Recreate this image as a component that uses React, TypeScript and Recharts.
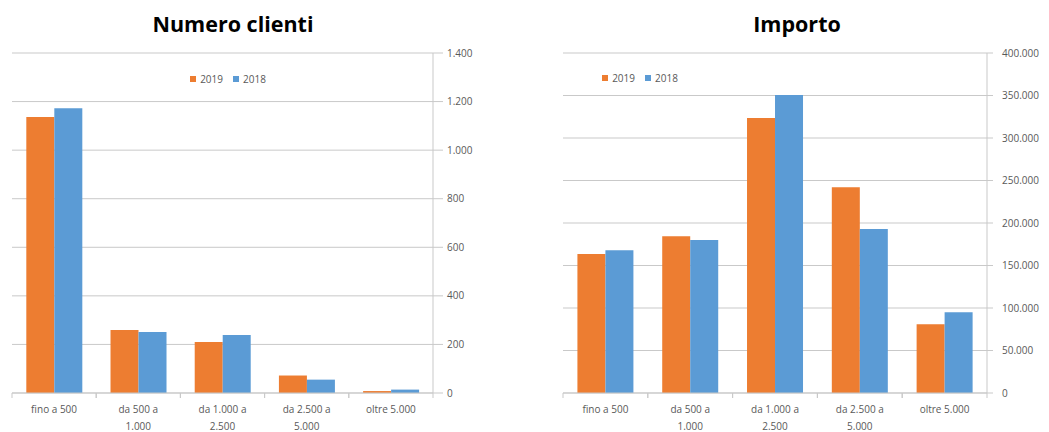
import React from "react";
import { BarChart, Bar, XAxis, YAxis, CartesianGrid, Legend } from "recharts";

// Fasce di importo
const categories = ["fino a 500", "da 500 a 1.000", "da 1.000 a 2.500", "da 2.500 a 5.000", "oltre 5.000"];

// Numero clienti per fascia
const clienti2019 = [1136, 259, 210, 72, 8];
const clienti2018 = [1173, 251, 239, 55, 14];

// Importo per fascia
const importo2019 = [163500, 184500, 323500, 242000, 81000];
const importo2018 = [168000, 180000, 350500, 193000, 95000];

const clientiTicks = [0, 200, 400, 600, 800, 1000, 1200, 1400];
const importoTicks = [0, 50000, 100000, 150000, 200000, 250000, 300000, 350000, 400000];

// keys prefixed so the legend (sorted by dataKey) lists 2019 before 2018
const clientiData = categories.map((c, i) => ({ name: c, a2019: clienti2019[i], b2018: clienti2018[i] }));
const importoData = categories.map((c, i) => ({ name: c, a2019: importo2019[i], b2018: importo2018[i] }));

const ORANGE = "#ED7D31";
const BLUE = "#5B9BD5";
const GRID = "#c9c9c9";
const TEXT = "#595959";
const FONT = "'Open Sans', 'DejaVu Sans', sans-serif";

const fmt = (v: number) => String(v).replace(/\B(?=(\d{3})+(?!\d))/g, ".");

const wrapLabel = (s: string): string[] => {
  if (s.startsWith("da ")) {
    const k = s.lastIndexOf(" ");
    return [s.slice(0, k), s.slice(k + 1)];
  }
  return [s];
};

const CategoryTick = (props: any) => {
  const { x, y, payload } = props;
  const half = payload && payload.offset ? payload.offset : 42;
  const lines = wrapLabel(payload.value);
  return (
    <g>
      <line x1={x - half} x2={x - half} y1={y - 8} y2={y - 3} stroke={GRID} />
      <line x1={x + half} x2={x + half} y1={y - 8} y2={y - 3} stroke={GRID} />
      {lines.map((l, i) => (
        <text
          key={i}
          x={x}
          y={y + 12 + i * 17}
          textAnchor="middle"
          fontSize={10}
          fontFamily={FONT}
          fill={TEXT}
        >
          {l}
        </text>
      ))}
    </g>
  );
};

const legendFormatter = (value: string) => (
  <span style={{ color: TEXT, fontSize: 10, fontFamily: FONT }}>{value}</span>
);

const titleStyle: React.CSSProperties = {
  position: "absolute",
  top: 9,
  fontFamily: FONT,
  fontWeight: 700,
  fontSize: 21.5,
  color: "#000",
  textAlign: "center",
};

export default function App() {
  return (
    <div style={{ position: "absolute", left: 0, top: 0, width: 1049, height: 432, background: "#fff" }}>
      <div style={{ ...titleStyle, left: 133, width: 200 }}>Numero clienti</div>
      <div style={{ ...titleStyle, left: 697, width: 200 }}>Importo</div>

      <div style={{ position: "absolute", left: 0, top: 0 }}>
        <BarChart
          width={520}
          height={432}
          data={clientiData}
          margin={{ top: 53, right: 0, bottom: 0, left: 12 }}
          barCategoryGap="17%"
          barGap={0}
        >
          <CartesianGrid vertical={false} stroke={GRID} />
          <XAxis
            dataKey="name"
            height={39}
            interval={0}
            tickLine={false}
            axisLine={{ stroke: GRID }}
            tick={<CategoryTick />}
          />
          <YAxis
            orientation="right"
            width={87}
            domain={[0, 1400]}
            ticks={clientiTicks}
            tickFormatter={fmt}
            axisLine={{ stroke: GRID }}
            tickLine={{ stroke: GRID }}
            tickSize={10}
            tickMargin={4}
            tick={{ fontSize: 10, fill: TEXT, fontFamily: FONT, textAnchor: "start" }}
          />
          <Legend
            layout="horizontal"
            verticalAlign="middle"
            align="center"
            itemSorter="dataKey"
            iconType="square"
            iconSize={6}
            formatter={legendFormatter}
            wrapperStyle={{ top: 69, left: 173, width: 120, textAlign: "left" }}
          />
          <Bar dataKey="a2019" name="2019" fill={ORANGE} isAnimationActive={false} />
          <Bar dataKey="b2018" name="2018" fill={BLUE} isAnimationActive={false} />
        </BarChart>
      </div>

      <div style={{ position: "absolute", left: 520, top: 0 }}>
        <BarChart
          width={529}
          height={432}
          data={importoData}
          margin={{ top: 53, right: 0, bottom: 0, left: 43 }}
          barCategoryGap="17%"
          barGap={0}
        >
          <CartesianGrid vertical={false} stroke={GRID} />
          <XAxis
            dataKey="name"
            height={39}
            interval={0}
            tickLine={false}
            axisLine={{ stroke: GRID }}
            tick={<CategoryTick />}
          />
          <YAxis
            orientation="right"
            width={62}
            domain={[0, 400000]}
            ticks={importoTicks}
            tickFormatter={fmt}
            axisLine={{ stroke: GRID }}
            tickLine={{ stroke: GRID }}
            tickSize={6}
            tickMargin={9}
            tick={{ fontSize: 10, fill: TEXT, fontFamily: FONT, textAnchor: "start" }}
          />
          <Legend
            layout="horizontal"
            verticalAlign="middle"
            align="center"
            itemSorter="dataKey"
            iconType="square"
            iconSize={6}
            formatter={legendFormatter}
            wrapperStyle={{ top: 68, left: 65, width: 120, textAlign: "left" }}
          />
          <Bar dataKey="a2019" name="2019" fill={ORANGE} isAnimationActive={false} />
          <Bar dataKey="b2018" name="2018" fill={BLUE} isAnimationActive={false} />
        </BarChart>
      </div>
    </div>
  );
}
